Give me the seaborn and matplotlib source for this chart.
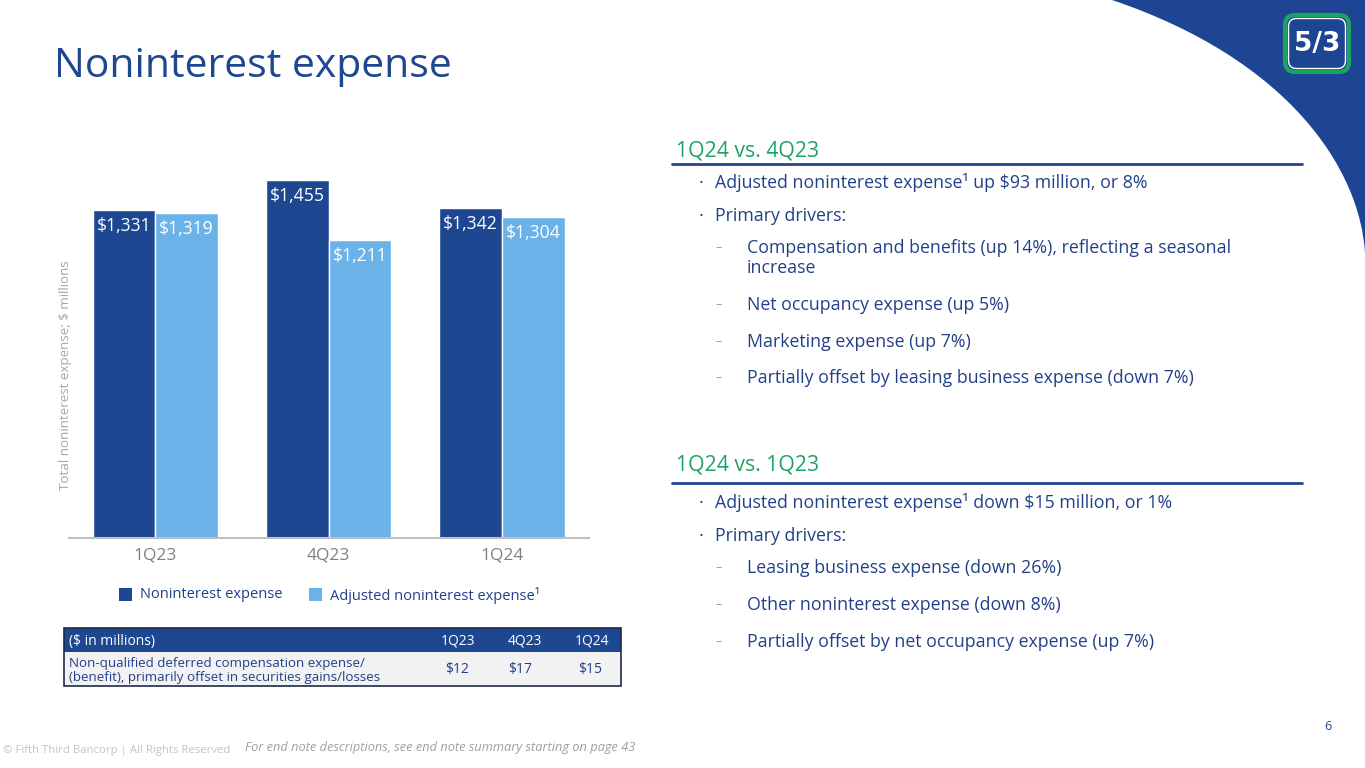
import numpy as np
import pandas as pd
import matplotlib
matplotlib.use('Agg')
import matplotlib.pyplot as plt
from matplotlib.patches import Rectangle, FancyBboxPatch, PathPatch
from matplotlib.path import Path
import seaborn as sns

# ---- data ----
quarters = ['1Q23', '4Q23', '1Q24']
noninterest_expense = [1331, 1455, 1342]
adjusted_expense = [1319, 1211, 1304]
series_names = ['Noninterest expense', 'Adjusted noninterest expense\u00b9']

table_cols = ['1Q23', '4Q23', '1Q24']
deferred_comp = ['$12', '$17', '$15']
table_row_label = ['Non-qualified deferred compensation expense/',
                   '(benefit), primarily offset in securities gains/losses']

right_sections = [
    ('1Q24 vs. 4Q23', [
        ('b', ['Adjusted noninterest expense\u00b9 up $93 million, or 8%']),
        ('b', ['Primary drivers:']),
        ('d', ['Compensation and benefits (up 14%), reflecting a seasonal', 'increase']),
        ('d', ['Net occupancy expense (up 5%)']),
        ('d', ['Marketing expense (up 7%)']),
        ('d', ['Partially offset by leasing business expense (down 7%)']),
    ]),
    ('1Q24 vs. 1Q23', [
        ('b', ['Adjusted noninterest expense\u00b9 down $15 million, or 1%']),
        ('b', ['Primary drivers:']),
        ('d', ['Leasing business expense (down 26%)']),
        ('d', ['Other noninterest expense (down 8%)']),
        ('d', ['Partially offset by net occupancy expense (up 7%)']),
    ]),
]

# ---- styling ----
DARK = '#1E4791'
LIGHT = '#6AB2E8'
GREEN = '#1BA363'
TEXT = '#22408A'
GRAY = '#808080'

sns.set_style('white')
plt.rcParams['font.family'] = ['Open Sans', 'DejaVu Sans']

fig = plt.figure(figsize=(13.65, 7.68), dpi=100)
fig.patch.set_facecolor('white')

# background layer in pixel coordinates
bg = fig.add_axes([0, 0, 1, 1], zorder=0)
bg.set_xlim(0, 1365)
bg.set_ylim(768, 0)
bg.axis('off')

# blue corner swoosh
verts = [(1112, 0), (1290, 60), (1360, 170), (1365, 253), (1365, 0), (1112, 0)]
codes = [Path.MOVETO, Path.CURVE4, Path.CURVE4, Path.CURVE4, Path.LINETO, Path.CLOSEPOLY]
bg.add_patch(PathPatch(Path(verts, codes), facecolor='#1D4594', edgecolor='none'))

# logo
bg.add_patch(FancyBboxPatch((1285, 15), 64, 57, boxstyle='round,pad=0,rounding_size=10',
                            facecolor='#1D4594', edgecolor=GREEN, linewidth=3))
bg.add_patch(FancyBboxPatch((1288.5, 18.5), 57, 50, boxstyle='round,pad=0,rounding_size=8',
                            facecolor='none', edgecolor='white', linewidth=1))
bg.text(1317, 44, '5/3', color='white', fontsize=19, fontweight='bold',
        ha='center', va='center', family='DejaVu Sans')

# title
bg.text(54, 77, 'Noninterest expense', color=DARK, fontsize=29.4, ha='left', va='baseline')

# ---- bar chart ----
df = pd.DataFrame({
    'quarter': quarters * 2,
    'value': noninterest_expense + adjusted_expense,
    'series': [series_names[0]] * 3 + [series_names[1]] * 3,
})

ax = fig.add_axes([68.6 / 1365, (768 - 537.7) / 768, 520 / 1365, 387.7 / 768], zorder=2)
ax.patch.set_alpha(0)
sns.barplot(data=df, x='quarter', y='value', hue='series', palette=[DARK, LIGHT],
            width=0.722, saturation=1, legend=False, ax=ax)
ax.set_ylim(0, 1577)
ax.set_xlim(-0.5, 2.5)
ax.set_xlabel('')
ax.set_ylabel('Total noninterest expense; $ millions', color='#A6A6A6', fontsize=9.6)
ax.yaxis.set_label_coords(0.006, 0.42)
ax.set_yticks([])
for s in ['top', 'right', 'left']:
    ax.spines[s].set_visible(False)
ax.spines['bottom'].set_color('#BFBFBF')
ax.spines['bottom'].set_linewidth(1.5)
ax.tick_params(axis='x', length=0, pad=7, labelsize=12.5, labelcolor=GRAY)

for cont in ax.containers:
    for patch in cont:
        h = patch.get_height()
        ax.annotate(f'${h:,.0f}', (patch.get_x() + patch.get_width() / 2, h),
                    xytext=(0, -11.5), textcoords='offset points',
                    ha='center', va='center', color='white', fontsize=12.7)

# legend
for x0, color, label in [(118.5, DARK, series_names[0]), (308.5, LIGHT, series_names[1])]:
    bg.add_patch(Rectangle((x0, 588), 13, 13, facecolor=color, edgecolor='none'))
    bg.text(x0 + 21.5, 595, label, color=TEXT, fontsize=10.5, ha='left', va='center')

# ---- table ----
tx0, tx1 = 64, 621
bg.add_patch(Rectangle((tx0, 628), tx1 - tx0, 24, facecolor=DARK, edgecolor='none'))
bg.add_patch(Rectangle((tx0, 652), tx1 - tx0, 34, facecolor='#F2F2F2', edgecolor='none'))
bg.add_patch(Rectangle((tx0, 628), tx1 - tx0, 58, facecolor='none', edgecolor='#1F2A44', linewidth=1.2))
bg.text(69, 641, '($ in millions)', color='white', fontsize=10, ha='left', va='center')
col_x = [458, 525, 592]
val_x = [457, 520, 590]
for cx, lab in zip(col_x, table_cols):
    bg.text(cx, 641, lab, color='white', fontsize=10, ha='center', va='center')
for ly, line in zip([664, 678], table_row_label):
    bg.text(69, ly, line, color=TEXT, fontsize=9.6, ha='left', va='center')
for vx, v in zip(val_x, deferred_comp):
    bg.text(vx, 670, v, color=TEXT, fontsize=10, ha='center', va='center')

# ---- right panel ----
head_base = [156, 471]
rule_y = [164, 483]
item_y = [[183, 216, 248, 305, 342, 378], [503, 536, 568, 605, 642]]
for (head, items), hb, ry, ys in zip(right_sections, head_base, rule_y, item_y):
    bg.text(676, hb, head, color=GREEN, fontsize=15.3, ha='left', va='baseline')
    bg.plot([672, 1302], [ry, ry], color='#24458F', lw=2)
    for (kind, lines), y in zip(items, ys):
        if kind == 'b':
            bg.text(699, y, '\u00b7', color=TEXT, fontsize=13, ha='left', va='center')
            x_txt = 715
        else:
            bg.text(716, y, '\u2013', color='#8A98BC', fontsize=9, ha='left', va='center')
            x_txt = 747
        for k, line in enumerate(lines):
            bg.text(x_txt, y + 20 * k, line, color=TEXT, fontsize=12.8, ha='left', va='center')

# ---- footer ----
bg.text(3, 750, '\u00a9 Fifth Third Bancorp | All Rights Reserved', color='#C4C4C4', fontsize=8.2,
        ha='left', va='center')
bg.text(245, 747, 'For end note descriptions, see end note summary starting on page 43', color='#A0A0A0',
        fontsize=9.2, style='italic', ha='left', va='center')
bg.text(1328, 727, '6', color=DARK, fontsize=9, ha='center', va='center')

fig.savefig('out.png', dpi=100)
